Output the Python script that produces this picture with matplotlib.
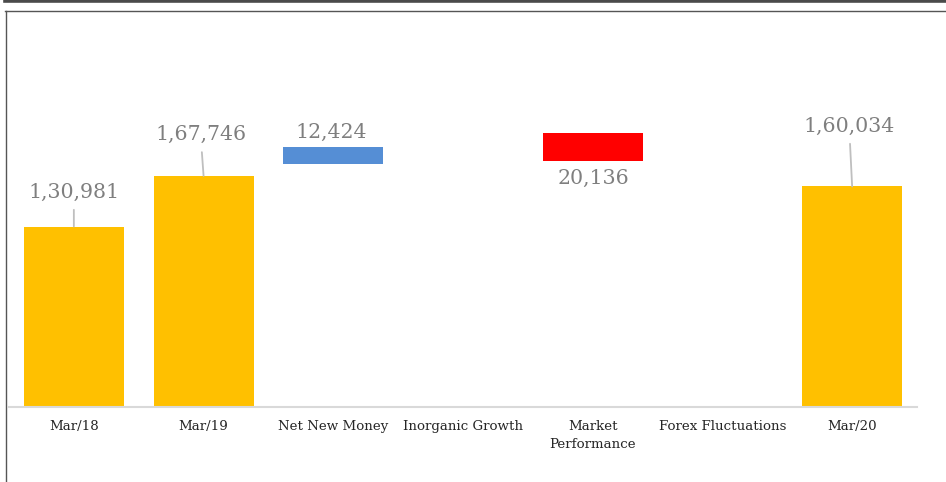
import matplotlib.pyplot as plt
from matplotlib.lines import Line2D
import numpy as np

plt.rcParams['font.family'] = ['DejaVu Serif']

# categories and values
categories = ['Mar/18', 'Mar/19', 'Net New Money', 'Inorganic Growth',
              'Market\nPerformance', 'Forex Fluctuations', 'Mar/20']
values = [130981, 167746, 12424, 0, -20136, 0, 160034]
# floating start of each bar, as drawn in the original
bases = [0, 0, 176000, 0, 198836, 0, 0]
labels = ['1,30,981', '1,67,746', '12,424', '', '20,136', '', '1,60,034']
colors = ['#FFC000', '#FFC000', '#558ED5', 'none', '#FF0000', 'none', '#FFC000']

# label offsets (pixels) relative to the bar end, and whether a leader line is drawn
lab_off = [(0, 29), (-3, 36), (-2, 9), (0, 0), (1, -23), (0, 0), (-3, 55)]
leader = [True, True, False, False, False, False, True]

fig = plt.figure(figsize=(9.46, 4.82), dpi=100)
ax = fig.add_axes([9 / 946, 75 / 482, 908 / 946, 387 / 482])

x = np.arange(len(categories))
ax.bar(x, values, bottom=bases, width=0.77, color=colors, zorder=2)
ax.set_xlim(-0.5, len(categories) - 0.5)
ax.set_ylim(0, 280840)

for i, lab in enumerate(labels):
    if not lab:
        continue
    top = bases[i] + values[i]
    dx, dy = lab_off[i]
    arrow = None
    if leader[i]:
        arrow = dict(arrowstyle='-', color='#BFBFBF', lw=1.3, shrinkA=4, shrinkB=0)
    ax.annotate(lab, xy=(x[i], top), xytext=(dx, dy), textcoords='offset pixels',
                ha='center', va='baseline', fontsize=14.8, color='#7F7F7F',
                arrowprops=arrow)

for s in ['top', 'right', 'left']:
    ax.spines[s].set_visible(False)
ax.spines['bottom'].set_color('#D9D9D9')
ax.spines['bottom'].set_linewidth(1.5)
ax.set_yticks([])
ax.set_xticks(x)
ax.set_xticklabels(categories, fontsize=9.6, color='#262626', linespacing=1.45)
ax.tick_params(axis='x', length=0, pad=9.5)

# outer frame bits from the screenshot
fig.add_artist(Line2D([5 / 946, 1], [1 - 1.2 / 482] * 2, color='#4A4A4A', lw=2.6))
fig.add_artist(Line2D([5 / 946, 1], [1 - 11 / 482] * 2, color='#555555', lw=1.0))
fig.add_artist(Line2D([6 / 946, 6 / 946], [0, 1 - 11 / 482], color='#555555', lw=1.0))

fig.savefig('out.png', dpi=100)
